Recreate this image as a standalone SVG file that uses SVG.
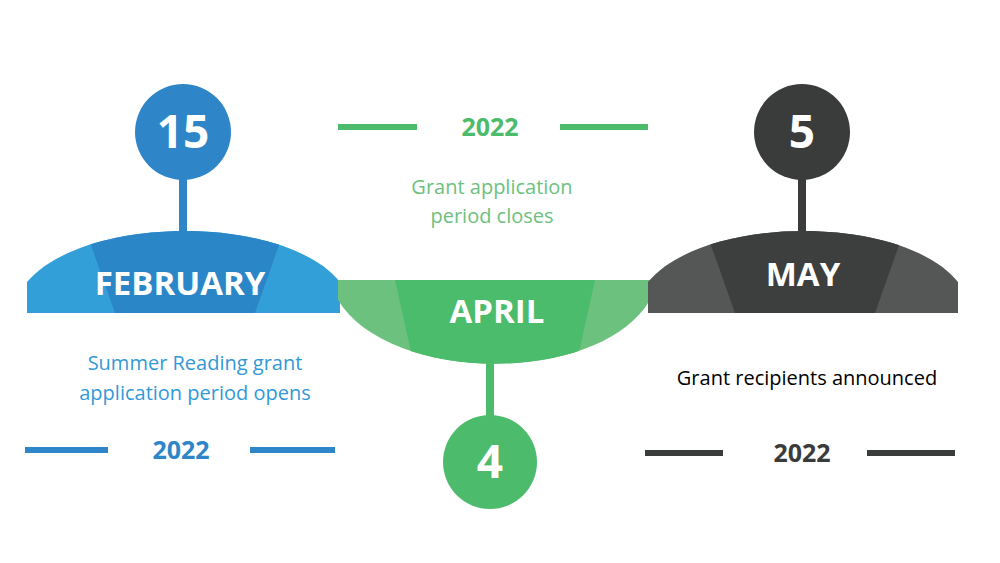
<svg xmlns="http://www.w3.org/2000/svg" width="1000" height="563" viewBox="0 0 1000 563">
<style>
text{font-family:"Open Sans","Liberation Sans",sans-serif;text-anchor:middle}
.num{fill:#fff;font-weight:bold;font-size:46px}
.mon{fill:#fff;font-weight:bold;font-size:33px}
.yr{font-weight:bold;font-size:25px}
.d{font-size:20px}
</style>
<defs>
<clipPath id="cf"><path d="M27,313 L27,282 C85,214 285,214 340,282 L340,313 Z"/></clipPath>
<clipPath id="ca"><path d="M338,280 L650,280 L650,300 C600,385 390,385 338,300 Z"/></clipPath>
<clipPath id="cm"><path d="M648,313 L648,282 C705,214 903,214 958,282 L958,313 Z"/></clipPath>
</defs>
<rect width="1000" height="563" fill="#fff"/>
<g id="feb">
<rect x="179" y="170" width="8" height="65" fill="#2e86c8"/>
<circle cx="183" cy="132" r="48" fill="#2e86c8"/>
<text class="num" x="183" y="148">15</text>
<path d="M27,313 L27,282 C85,214 285,214 340,282 L340,313 Z" fill="#339fd8"/>
<polygon clip-path="url(#cf)" points="75,200 295,200 255,313 115,313" fill="#2b86c8"/>
<text class="mon" x="180" y="295">FEBRUARY</text>
<text class="d" x="195" y="370" fill="#3399d6">Summer Reading grant</text>
<text class="d" x="195" y="400" fill="#3399d6">application period opens</text>
<line x1="25" y1="450" x2="108" y2="450" stroke="#2e86c8" stroke-width="6"/>
<line x1="250" y1="450" x2="335" y2="450" stroke="#2e86c8" stroke-width="6"/>
<text class="yr" x="181" y="459" fill="#2e86c8">2022</text>
</g>
<g id="apr">
<rect x="486" y="360" width="8" height="60" fill="#4cbb6b"/>
<circle cx="490" cy="462" r="47" fill="#4cbb6b"/>
<text class="num" x="490" y="478">4</text>
<path d="M338,280 L650,280 L650,300 C600,385 390,385 338,300 Z" fill="#6cc17e"/>
<polygon clip-path="url(#ca)" points="395,280 595,280 575,370 415,370" fill="#4bbb6c"/>
<text class="mon" x="497" y="323">APRIL</text>
<line x1="338" y1="127" x2="417" y2="127" stroke="#4cbb6b" stroke-width="6"/>
<line x1="560" y1="127" x2="648" y2="127" stroke="#4cbb6b" stroke-width="6"/>
<text class="yr" x="490" y="136" fill="#4cbb6b">2022</text>
<text class="d" x="492" y="194" fill="#6cc17e">Grant application</text>
<text class="d" x="492" y="223" fill="#6cc17e">period closes</text>
</g>
<g id="may">
<rect x="798" y="170" width="8" height="65" fill="#3a3b3b"/>
<circle cx="802" cy="132" r="48" fill="#3a3b3b"/>
<text class="num" x="802" y="148">5</text>
<path d="M648,313 L648,282 C705,214 903,214 958,282 L958,313 Z" fill="#555757"/>
<polygon clip-path="url(#cm)" points="695,200 915,200 875,313 735,313" fill="#3d3e3e"/>
<text class="mon" x="803" y="286">MAY</text>
<text class="d" x="807" y="385" fill="#000">Grant recipients announced</text>
<line x1="645" y1="453" x2="723" y2="453" stroke="#3a3b3b" stroke-width="6"/>
<line x1="867" y1="453" x2="955" y2="453" stroke="#3a3b3b" stroke-width="6"/>
<text class="yr" x="802" y="462" fill="#3a3b3b">2022</text>
</g>
</svg>
